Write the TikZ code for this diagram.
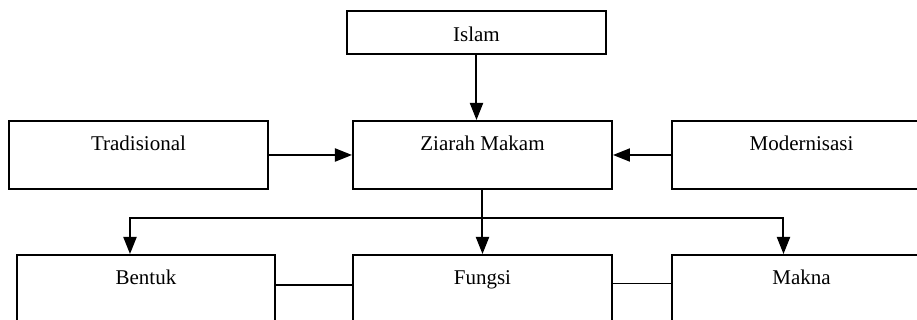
\documentclass[tikz,border=0pt]{standalone}
\usepackage{fontspec}
\setmainfont{Liberation Serif}
\usetikzlibrary{arrows.meta,positioning}

\begin{document}
\begin{tikzpicture}[
    kotak/.style={rectangle, draw=black, line width=1pt, inner xsep=0pt, inner ysep=0pt,
                  minimum width=129.5pt, text height=15pt, text depth=19pt, align=center},
    atas/.style={kotak, text height=15.5pt, text depth=6pt},
    panah/.style={-{Triangle[length=8.5pt,width=6.5pt]}, line width=1pt},
    every node/.style={font=\fontsize{10.5}{12}\selectfont}
]

\useasboundingbox (-241.25pt,-82.5pt) rectangle (217.25pt,77.5pt);
\clip (-241.25pt,-82.5pt) rectangle (217.25pt,77.5pt);

\node[kotak] (ziarah) at (0,0) {Ziarah Makam};

\node[atas, above=32.5pt of ziarah, xshift=-3pt] (islam) {Islam};

\node[kotak, left=41.5pt of ziarah] (tradisional) {Tradisional};

\node[kotak, right=29pt of ziarah] (modernisasi) {Modernisasi};

\node[kotak, below=32pt of ziarah] (fungsi) {Fungsi};

\node[kotak, left=38pt of fungsi, minimum width=129pt] (bentuk) {Bentuk};

\node[kotak, right=29pt of fungsi] (makna) {Makna};

\draw[panah] (islam.south) -- (islam.south |- ziarah.north);
\draw[panah] (tradisional.east) -- (ziarah.west);
\draw[panah] (modernisasi.west) -- (ziarah.east);

\coordinate (cabang) at ([yshift=-14pt]ziarah.south);
\draw[panah] (ziarah.south) -- (fungsi.north);
\draw[panah] (cabang) -| ([xshift=-8pt]bentuk.north);
\draw[panah] (cabang) -| ([xshift=-9pt]makna.north);

\draw[-, line width=1pt] ([yshift=-15.5pt]bentuk.north east) -- ([yshift=-15.5pt]fungsi.north west);
\draw[-, line width=0.5pt] ([yshift=-15pt]fungsi.north east) -- ([yshift=-15pt]makna.north west);

\end{tikzpicture}
\end{document}
